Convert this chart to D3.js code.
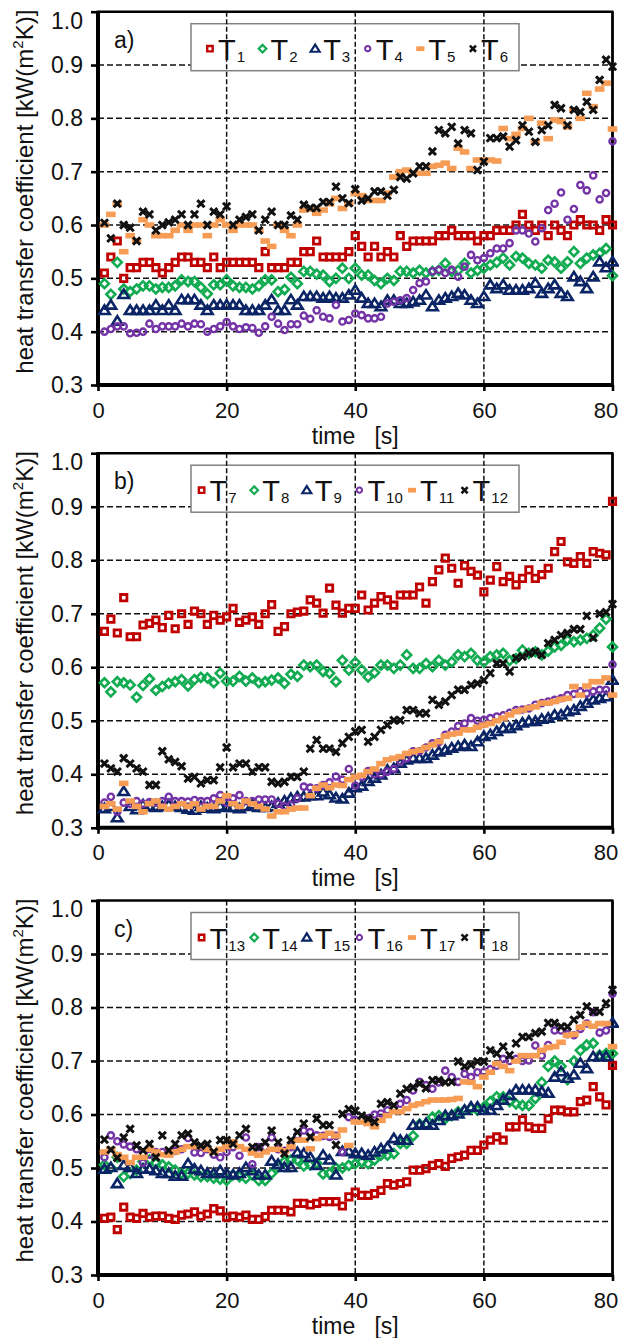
<!DOCTYPE html>
<html>
<head>
<meta charset="utf-8">
<script src="https://cdn.jsdelivr.net/npm/d3@7"></script>
<style>
	body { margin: 0; background: #fff; }
	svg text { font-family: "Liberation Sans", Arial, sans-serif; fill: #111; }
</style>
</head>
<body>
<svg id="chart" width="619" height="1338"></svg>
<script>

// ---DATA---//

// one reading per second
var seconds = d3.range(1, 81);

var yTicks = [0.3, 0.4, 0.5, 0.6, 0.7, 0.8, 0.9, 1.0];
var xTicks = [0, 20, 40, 60, 80];

var panelLabels = ["a)", "b)", "c)"];
var legendA = ["1", "2", "3", "4", "5", "6"];
var legendB = ["7", "8", "9", "10", "11", "12"];
var legendC = ["13", "14", "15", "16", "17", "18"];

// panel a
var T1 = [.51,.54,.57,.50,.52,.52,.53,.53,.52,.51,
	.52,.53,.54,.54,.53,.53,.52,.54,.52,.53,
	.53,.53,.53,.53,.52,.55,.52,.52,.52,.53,
	.53,.55,.55,.57,.54,.54,.54,.54,.55,.58,
	.56,.54,.56,.54,.55,.54,.58,.56,.57,.57,
	.57,.57,.58,.58,.59,.58,.58,.58,.57,.58,
	.58,.59,.59,.59,.60,.62,.60,.59,.60,.58,
	.60,.59,.58,.60,.61,.60,.60,.59,.61,.60];
var T2 = [.49,.47,.53,.48,.475,.48,.486,.486,.48,.483,
	.483,.486,.497,.494,.494,.483,.471,.488,.488,.497,
	.486,.483,.483,.48,.486,.497,.497,.475,.479,.502,
	.49,.513,.513,.508,.506,.494,.50,.519,.50,.519,
	.506,.506,.496,.49,.50,.496,.513,.513,.51,.515,
	.51,.513,.515,.528,.513,.515,.528,.51,.515,.519,
	.525,.53,.538,.525,.541,.538,.528,.525,.519,.534,
	.531,.519,.531,.55,.528,.538,.544,.547,.556,.505];
var T3 = [.44,.45,.42,.47,.44,.44,.44,.44,.45,.44,
	.45,.44,.46,.46,.46,.45,.44,.45,.45,.45,
	.45,.45,.44,.44,.44,.45,.46,.44,.44,.46,
	.45,.466,.466,.466,.463,.466,.463,.463,.469,.478,
	.463,.453,.453,.447,.459,.459,.453,.453,.456,.459,
	.469,.447,.459,.463,.466,.472,.469,.459,.453,.466,
	.488,.481,.488,.478,.478,.478,.481,.491,.472,.481,
	.488,.472,.466,.503,.494,.481,.503,.531,.52,.531];
var T4 = [.40,.405,.41,.41,.397,.398,.40,.415,.405,.41,
	.41,.41,.415,.41,.415,.414,.40,.405,.41,.418,
	.41,.405,.408,.407,.398,.41,.428,.415,.403,.414,
	.414,.43,.424,.44,.428,.425,.45,.419,.422,.434,
	.431,.425,.425,.428,.453,.456,.459,.463,.478,.491,
	.494,.513,.516,.51,.516,.503,.522,.544,.534,.538,
	.547,.556,.556,.566,.59,.59,.584,.569,.594,.628,
	.64,.661,.61,.63,.675,.665,.693,.648,.66,.757];
var T5 = [.60,.62,.64,.55,.58,.57,.61,.60,.58,.58,
	.58,.59,.60,.59,.60,.60,.58,.60,.61,.60,
	.59,.60,.60,.60,.59,.57,.56,.60,.59,.58,
	.60,.628,.63,.622,.628,.64,.65,.631,.64,.659,
	.655,.646,.646,.646,.66,.69,.70,.703,.697,.697,
	.697,.71,.712,.716,.706,.744,.737,.706,.722,.722,
	.722,.72,.781,.762,.77,.781,.80,.756,.791,.762,
	.797,.794,.784,.816,.80,.847,.822,.855,.866,.78];
var T6 = [.604,.575,.64,.60,.595,.57,.625,.62,.59,.60,
	.605,.61,.62,.60,.62,.64,.60,.625,.62,.635,
	.60,.61,.615,.62,.59,.61,.625,.60,.60,.618,
	.61,.638,.632,.632,.643,.643,.672,.65,.641,.667,
	.646,.65,.663,.663,.655,.666,.69,.687,.697,.71,
	.71,.738,.778,.772,.784,.753,.778,.772,.703,.719,
	.763,.763,.766,.747,.759,.787,.775,.756,.778,.787,
	.825,.819,.787,.816,.812,.831,.816,.872,.91,.897];

// panel b
var T7 = [.667,.69,.664,.73,.657,.657,.679,.682,.688,.674,
	.697,.672,.70,.68,.705,.70,.68,.697,.688,.694,
	.71,.684,.688,.694,.68,.70,.717,.667,.676,.70,
	.703,.705,.726,.72,.701,.748,.716,.701,.71,.71,
	.735,.707,.72,.732,.726,.716,.735,.735,.735,.75,
	.72,.76,.782,.804,.785,.757,.79,.779,.772,.741,
	.763,.788,.76,.77,.754,.766,.782,.766,.773,.785,
	.816,.835,.797,.794,.807,.794,.816,.813,.81,.91];
var T8 = [.571,.554,.573,.571,.567,.544,.566,.578,.557,.564,
	.57,.573,.577,.565,.577,.581,.58,.571,.589,.574,
	.574,.583,.574,.58,.571,.573,.576,.58,.57,.587,
	.583,.604,.601,.604,.592,.589,.573,.613,.595,.609,
	.595,.582,.59,.604,.604,.598,.604,.623,.598,.598,
	.607,.601,.613,.604,.61,.623,.62,.626,.613,.61,
	.62,.623,.626,.613,.616,.632,.626,.629,.623,.63,
	.638,.641,.651,.648,.651,.654,.66,.673,.69,.638];
var T9 = [.336,.34,.319,.368,.34,.334,.343,.34,.338,.34,
	.343,.34,.338,.335,.333,.34,.337,.336,.34,.338,
	.338,.336,.34,.343,.338,.338,.34,.346,.35,.355,
	.358,.358,.36,.36,.367,.362,.356,.354,.365,.375,
	.378,.387,.393,.399,.408,.411,.421,.427,.43,.43,
	.43,.436,.442,.445,.449,.452,.455,.452,.461,.471,
	.474,.48,.486,.486,.491,.496,.499,.499,.503,.505,
	.511,.511,.517,.52,.527,.533,.539,.542,.545,.576];
var T10 = [.347,.358,.33,.347,.345,.35,.345,.348,.347,.35,
	.358,.35,.35,.349,.352,.35,.35,.355,.361,.347,
	.355,.361,.35,.35,.353,.353,.353,.345,.34,.343,
	.355,.377,.375,.374,.38,.385,.396,.39,.41,.379,
	.395,.406,.40,.40,.405,.41,.424,.43,.443,.443,
	.45,.458,.46,.474,.48,.49,.495,.505,.50,.502,
	.505,.508,.51,.515,.52,.521,.523,.53,.533,.536,
	.539,.542,.548,.55,.555,.551,.555,.558,.558,.605];
var T11 = [.34,.345,.335,.383,.35,.34,.33,.345,.35,.34,
	.335,.34,.345,.34,.345,.335,.34,.34,.35,.36,
	.345,.34,.35,.345,.34,.335,.322,.33,.33,.335,
	.337,.337,.36,.374,.38,.375,.38,.379,.39,.395,
	.398,.405,.41,.42,.427,.43,.433,.439,.442,.445,
	.45,.455,.461,.471,.475,.477,.483,.483,.488,.492,
	.495,.50,.505,.511,.517,.52,.524,.526,.533,.533,
	.536,.54,.542,.564,.548,.565,.573,.573,.58,.548];
var T12 = [.42,.411,.405,.43,.42,.411,.405,.38,.38,.443,
	.428,.423,.415,.392,.395,.383,.389,.389,.413,.45,
	.413,.42,.42,.405,.413,.413,.386,.383,.386,.395,
	.395,.405,.448,.464,.448,.448,.442,.458,.47,.48,
	.483,.461,.47,.483,.492,.501,.501,.52,.52,.514,
	.514,.539,.53,.536,.548,.558,.558,.567,.57,.576,
	.589,.607,.607,.592,.617,.62,.626,.629,.623,.645,
	.651,.66,.664,.671,.671,.696,.655,.70,.703,.718];

// panel c
var T13 = [.406,.408,.385,.427,.408,.406,.415,.408,.41,.41,
	.406,.404,.412,.414,.418,.41,.414,.424,.42,.408,
	.41,.408,.412,.404,.404,.409,.421,.421,.421,.418,
	.434,.434,.431,.434,.437,.437,.437,.429,.446,.455,
	.449,.449,.452,.458,.471,.468,.471,.474,.496,.496,
	.499,.505,.508,.503,.518,.521,.524,.533,.533,.543,
	.552,.558,.552,.577,.577,.59,.577,.574,.574,.592,
	.608,.608,.605,.605,.624,.627,.652,.633,.618,.692];
var T14 = [.506,.50,.52,.484,.49,.496,.512,.515,.509,.506,
	.502,.496,.49,.49,.487,.484,.484,.481,.479,.477,
	.487,.484,.481,.487,.477,.477,.49,.502,.512,.515,
	.515,.504,.506,.509,.489,.49,.50,.50,.505,.508,
	.511,.508,.515,.524,.524,.527,.546,.546,.56,.582,
	.582,.595,.598,.592,.598,.605,.608,.611,.608,.614,
	.624,.633,.633,.624,.62,.617,.617,.63,.66,.69,
	.70,.69,.665,.70,.72,.73,.733,.711,.714,.714];
var T15 = [.498,.501,.471,.505,.501,.49,.498,.498,.495,.49,
	.49,.485,.485,.508,.498,.495,.49,.49,.495,.49,
	.487,.49,.501,.495,.487,.487,.513,.507,.501,.501,
	.529,.527,.52,.505,.524,.515,.487,.531,.531,.527,
	.527,.524,.53,.536,.539,.555,.552,.552,.58,.58,
	.583,.58,.589,.598,.598,.601,.608,.614,.614,.608,
	.608,.617,.627,.636,.646,.646,.646,.646,.643,.64,
	.67,.68,.668,.674,.696,.686,.708,.708,.708,.771];
var T16 = [.52,.561,.55,.544,.54,.535,.51,.525,.53,.53,
	.529,.532,.535,.556,.529,.528,.535,.525,.52,.53,
	.539,.523,.557,.507,.539,.539,.557,.535,.532,.539,
	.561,.57,.567,.561,.56,.558,.56,.53,.595,.59,
	.59,.593,.60,.602,.608,.611,.62,.627,.645,.661,
	.655,.648,.66,.682,.67,.661,.676,.67,.679,.68,
	.685,.691,.704,.70,.704,.70,.701,.729,.71,.73,
	.757,.757,.75,.748,.76,.77,.791,.753,.757,.826];
var T17 = [.53,.535,.525,.52,.51,.52,.52,.535,.53,.525,
	.524,.53,.535,.54,.54,.54,.535,.53,.535,.54,
	.549,.54,.535,.528,.524,.53,.535,.535,.532,.54,
	.552,.552,.536,.555,.56,.565,.56,.571,.542,.586,
	.586,.583,.577,.589,.598,.605,.605,.611,.617,.62,
	.624,.627,.627,.627,.628,.63,.661,.66,.652,.67,
	.679,.695,.69,.682,.70,.71,.71,.71,.72,.725,
	.727,.735,.748,.75,.763,.77,.765,.77,.77,.727];
var T18 = [.553,.534,.519,.557,.573,.542,.533,.545,.52,.561,
	.533,.545,.561,.564,.548,.542,.545,.53,.552,.552,
	.545,.561,.573,.539,.539,.548,.57,.548,.527,.552,
	.567,.583,.558,.592,.58,.58,.543,.601,.61,.607,
	.598,.592,.586,.62,.623,.617,.639,.648,.651,.658,
	.649,.664,.664,.66,.661,.699,.69,.693,.699,.699,
	.72,.714,.727,.711,.733,.745,.745,.752,.755,.771,
	.771,.764,.764,.777,.786,.802,.792,.792,.808,.833];

var panels = [
	{ label: panelLabels[0], names: legendA, series: [T1, T2, T3, T4, T5, T6] },
	{ label: panelLabels[1], names: legendB, series: [T7, T8, T9, T10, T11, T12] },
	{ label: panelLabels[2], names: legendC, series: [T13, T14, T15, T16, T17, T18] }
];

// ---LAYOUT---//

var plotLeft = 98;
var plotRight = 612.5;
var panelTops = [11.7, 453.2, 900.5];
var panelBottoms = [385, 827.8, 1275];

var colors = ["#c00000", "#12ab52", "#0b2466", "#7433a6", "#f69c55", "#111111"];

var svg = d3.select("#chart");

var x = d3.scaleLinear().domain([0, 80]).range([plotLeft, plotRight]);

// ---MARKER SHAPES---//

var squareType = { draw: function(c, s) {
	var r = Math.sqrt(s);
	c.moveTo(-r, -r); c.lineTo(r, -r); c.lineTo(r, r); c.lineTo(-r, r); c.closePath();
}};
var diamondType = { draw: function(c, s) {
	var r = Math.sqrt(s);
	c.moveTo(0, -r); c.lineTo(r, 0); c.lineTo(0, r); c.lineTo(-r, 0); c.closePath();
}};
var triangleType = { draw: function(c, s) {
	var r = Math.sqrt(s);
	c.moveTo(0, -r); c.lineTo(r * 1.1, r * 0.75); c.lineTo(-r * 1.1, r * 0.75); c.closePath();
}};
var circleType = { draw: function(c, s) {
	var r = Math.sqrt(s);
	c.moveTo(r, 0); c.arc(0, 0, r, 0, 2 * Math.PI);
}};
var dashType = { draw: function(c, s) {
	var r = Math.sqrt(s);
	c.moveTo(-r, -r * 0.58); c.lineTo(r, -r * 0.58); c.lineTo(r, r * 0.58); c.lineTo(-r, r * 0.58); c.closePath();
}};
var crossType = { draw: function(c, s) {
	var r = Math.sqrt(s);
	c.moveTo(-r, -r); c.lineTo(r, r); c.moveTo(r, -r); c.lineTo(-r, r);
}};

var markers = [
	{ type: squareType, r: 3.2, width: 2.8, filled: false },
	{ type: diamondType, r: 4.5, width: 2.6, filled: false },
	{ type: triangleType, r: 4.8, width: 2.6, filled: false },
	{ type: circleType, r: 3.1, width: 2.4, filled: false },
	{ type: dashType, r: 4.8, width: 0, filled: true },
	{ type: crossType, r: 3.6, width: 3.0, filled: false }
];

styleMarker = function(sel, k, scale) {

	var m = markers[k];
	sel.attr("d", d3.symbol().type(m.type).size(Math.pow(m.r * scale, 2))())
		.attr("fill", m.filled ? colors[k] : "none")
		.attr("stroke", m.filled ? "none" : colors[k])
		.attr("stroke-width", m.width * scale)
		.attr("stroke-linejoin", "miter");

}// END: styleMarker

// ---PANELS---//

drawPanel = function(panel, i) {

	var top = panelTops[i];
	var bottom = panelBottoms[i];
	var y = d3.scaleLinear().domain([0.3, 1.0]).range([bottom, top]);

	var g = svg.append("g").attr("class", "panel");

	// horizontal grid, covered by the legend box
	g.append("g").selectAll("line").data(yTicks.slice(1, -1)).enter().append("line")
		.attr("x1", plotLeft).attr("x2", plotRight)
		.attr("y1", function(d) { return y(d); })
		.attr("y2", function(d) { return y(d); })
		.attr("stroke", "#111").attr("stroke-width", 1.5)
		.attr("stroke-dasharray", "6,3");

	var boxLeft = 191, boxRight = 519, boxTop = top + 12, boxH = 47;
	g.append("rect")
		.attr("x", boxLeft).attr("y", boxTop)
		.attr("width", boxRight - boxLeft).attr("height", boxH)
		.attr("fill", "#fff").attr("stroke", "#808080").attr("stroke-width", 1.5);

	// vertical grid
	g.append("g").selectAll("line").data(xTicks.slice(1, -1)).enter().append("line")
		.attr("x1", function(d) { return x(d); })
		.attr("x2", function(d) { return x(d); })
		.attr("y1", top).attr("y2", bottom)
		.attr("stroke", "#111").attr("stroke-width", 1.5)
		.attr("stroke-dasharray", "5,2.5");

	// frame
	g.append("line").attr("x1", plotLeft).attr("x2", plotRight + 1)
		.attr("y1", top).attr("y2", top).attr("stroke", "#000").attr("stroke-width", 2.5);
	g.append("line").attr("x1", plotRight).attr("x2", plotRight)
		.attr("y1", top).attr("y2", bottom).attr("stroke", "#000").attr("stroke-width", 2.8);

	// axes
	var yAxis = d3.axisLeft(y).tickValues(yTicks).tickFormat(d3.format(".1f"))
		.tickSize(7).tickSizeOuter(0).tickPadding(8);
	var ya = g.append("g").attr("transform", "translate(" + plotLeft + ",0)").call(yAxis);

	var xAxis = d3.axisBottom(x).tickValues(xTicks).tickFormat(d3.format("d"))
		.tickSize(6).tickSizeOuter(0).tickPadding(11);
	var xa = g.append("g").attr("transform", "translate(0," + bottom + ")").call(xAxis);

	[ya, xa].forEach(function(a) {
		a.select(".domain").remove();
		a.selectAll(".tick line").attr("stroke", "#000").attr("stroke-width", 2.6);
		a.selectAll(".tick text").style("font-size", "23px").attr("fill", "#111");
	});
	xa.selectAll(".tick text").style("font-size", "22px");
	// top label sits inside the frame, last label inside the page
	ya.selectAll(".tick text").filter(function(d) { return d === 1.0; })
		.attr("transform", "translate(0,9)");
	xa.selectAll(".tick text").filter(function(d) { return d === 80; })
		.attr("transform", "translate(-7,0)");

	g.append("line").attr("x1", plotLeft).attr("x2", plotLeft)
		.attr("y1", top - 1).attr("y2", bottom + 2).attr("stroke", "#000").attr("stroke-width", 4);
	g.append("line").attr("x1", plotLeft - 2).attr("x2", plotRight + 1)
		.attr("y1", bottom).attr("y2", bottom).attr("stroke", "#000").attr("stroke-width", 4);

	// axis titles
	var title = g.append("text")
		.attr("transform", "translate(33," + (top + 180) + ") rotate(-90)")
		.attr("text-anchor", "middle")
		.style("font-size", "24px");
	title.append("tspan").text("heat transfer coefficient [kW(m");
	title.append("tspan").attr("dy", -10).style("font-size", "15px").text("2");
	title.append("tspan").attr("dy", 10).text("K)]");

	g.append("text")
		.attr("x", x(40)).attr("y", bottom + 58.5)
		.attr("text-anchor", "middle")
		.attr("xml:space", "preserve")
		.style("white-space", "pre")
		.style("font-size", "23px")
		.text("time   [s]");

	g.append("text").attr("x", 114).attr("y", top + 36)
		.style("font-size", "23px").text(panel.label);

	// series
	panel.series.forEach(function(values, k) {

		g.append("g").attr("class", "series").selectAll("path")
			.data(values).enter().append("path")
			.attr("transform", function(d, j) {
				return "translate(" + x(seconds[j]) + "," + y(d) + ")";
			})
			.call(styleMarker, k, 1);

	});// END: series loop

	// legend entries, right aligned at a fixed pitch
	var pitch = 52.6;
	var items = g.append("g").selectAll("g").data(panel.names).enter().append("g");

	items.append("path").call(function(sel) {
		sel.each(function(d, k) { d3.select(this).call(styleMarker, k, 0.85); });
	});

	var labels = items.append("text").attr("x", 8).attr("y", 11).style("font-size", "29px");
	labels.append("tspan").text("T");
	labels.append("tspan").attr("dy", 2).attr("dx", 1).style("font-size", "15px")
		.text(function(d) { return d; });

	var lastW = labels.nodes()[5].getComputedTextLength();
	var startX = boxRight - 12 - lastW - 8 - 5 * pitch;
	items.attr("transform", function(d, k) {
		return "translate(" + (startX + k * pitch) + "," + (boxTop + 25) + ")";
	});

}// END: drawPanel

panels.forEach(drawPanel);

</script>
</body>
</html>
